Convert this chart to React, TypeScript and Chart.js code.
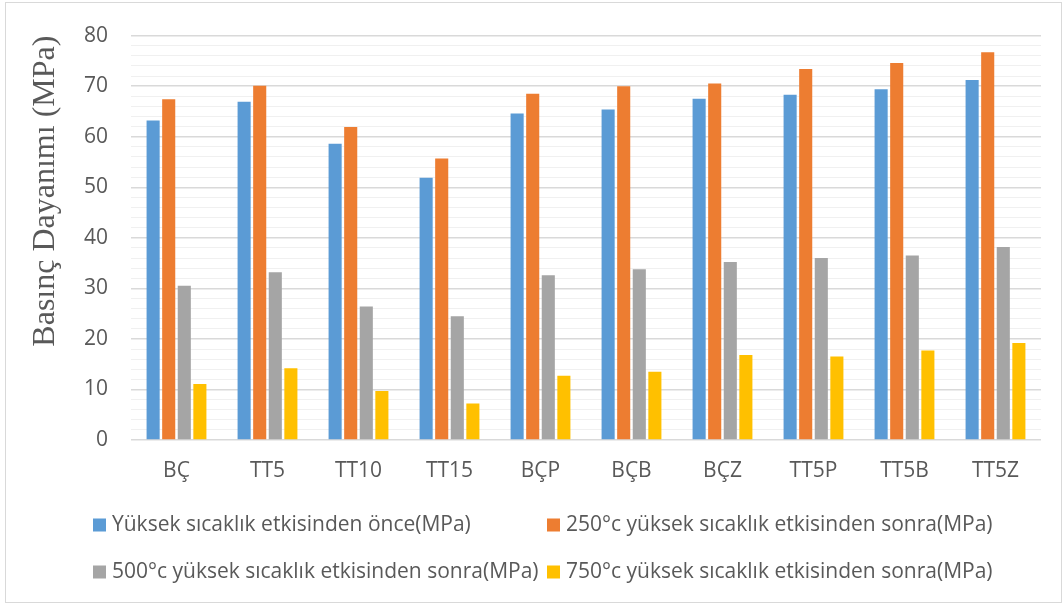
import React, { useEffect, useRef } from "react";
import { Chart, registerables } from "chart.js";

Chart.register(...registerables);

const categories = ["BÇ", "TT5", "TT10", "TT15", "BÇP", "BÇB", "BÇZ", "TT5P", "TT5B", "TT5Z"];

const seriesLabels = [
  "Yüksek sıcaklık etkisinden önce(MPa)",
  "250°c yüksek sıcaklık etkisinden sonra(MPa)",
  "500°c yüksek sıcaklık etkisinden sonra(MPa)",
  "750°c yüksek sıcaklık etkisinden sonra(MPa)",
];

const beforeHeat = [63.2, 66.9, 58.6, 51.9, 64.6, 65.4, 67.5, 68.3, 69.4, 71.2];
const after250 = [67.4, 70.1, 61.9, 55.7, 68.5, 70.0, 70.5, 73.4, 74.6, 76.7];
const after500 = [30.5, 33.2, 26.4, 24.5, 32.6, 33.8, 35.2, 36.0, 36.5, 38.2];
const after750 = [11.1, 14.2, 9.7, 7.2, 12.7, 13.5, 16.8, 16.5, 17.7, 19.2];

const seriesColors = ["#5B9BD5", "#ED7D31", "#A5A5A5", "#FFC000"];

const yAxisTitle = "Basınç Dayanımı (MPa)";

const TEXT = "#595959";
const SANS = "'Open Sans', 'Noto Sans', sans-serif";

export default function App() {
  const ref = useRef<HTMLCanvasElement | null>(null);

  useEffect(() => {
    if (!ref.current) return;

    const framePlugin = {
      id: "frame",
      beforeDraw(chart: any) {
        const ctx = chart.ctx;
        ctx.save();
        ctx.fillStyle = "#ffffff";
        ctx.fillRect(0, 0, chart.width, chart.height);
        ctx.strokeStyle = "#d9d9d9";
        ctx.lineWidth = 1;
        ctx.strokeRect(5.5, 2.5, 1056, 600);
        ctx.restore();
      },
    };

    const gridLegendPlugin = {
      id: "gridLegend",
      afterDraw(chart: any) {
        const ctx = chart.ctx;
        const cols = [93, 547];
        const rows = [525, 572];
        ctx.save();
        ctx.font = `21px ${SANS}`;
        ctx.textBaseline = "middle";
        ctx.textAlign = "left";
        chart.data.datasets.forEach((ds: any, i: number) => {
          const x = cols[i % 2];
          const y = rows[Math.floor(i / 2)];
          ctx.fillStyle = ds.backgroundColor;
          ctx.fillRect(x, y - 6.5, 13, 13);
          ctx.fillStyle = TEXT;
          ctx.fillText(ds.label, x + 19, y);
        });
        ctx.restore();
      },
    };

    const data = [beforeHeat, after250, after500, after750];

    const chart = new Chart(ref.current, {
      type: "bar",
      data: {
        labels: categories,
        datasets: data.map((values, i) => ({
          label: seriesLabels[i],
          data: values,
          backgroundColor: seriesColors[i],
          borderWidth: 0,
          categoryPercentage: 0.685,
          barPercentage: 0.84,
        })),
      },
      options: {
        responsive: false,
        animation: false,
        devicePixelRatio: 1,
        layout: { padding: { left: 0, right: 23, top: 31, bottom: 105 } },
        plugins: {
          legend: { display: false },
          tooltip: { enabled: false },
          title: { display: false },
        },
        scales: {
          x: {
            grid: { display: false, drawTicks: false },
            border: { display: false },
            ticks: {
              color: TEXT,
              font: { family: SANS, size: 21 },
              padding: 18,
              maxRotation: 0,
            },
            afterFit(scale: any) {
              scale.height = 60;
            },
          },
          y: {
            min: 0,
            max: 80,
            border: { display: false },
            grid: {
              drawTicks: false,
              color: (c: any) => (c.tick && c.tick.value % 10 === 0 ? "#d9d9d9" : "#f0f0f0"),
              lineWidth: (c: any) => (c.tick && c.tick.value % 10 === 0 ? 1.4 : 1),
            },
            ticks: {
              stepSize: 2,
              autoSkip: false,
              color: TEXT,
              font: { family: SANS, size: 21 },
              padding: 23,
              callback: (v: any) => (Number(v) % 10 === 0 ? String(v) : ""),
            },
            title: {
              display: true,
              text: yAxisTitle,
              align: "end",
              color: TEXT,
              font: { family: "'Liberation Serif', 'Times New Roman', serif", size: 32, weight: "normal" },
              padding: { top: 26, bottom: 0 },
            },
            afterFit(scale: any) {
              scale.width = 131;
            },
          },
        },
      },
      plugins: [framePlugin, gridLegendPlugin],
    } as any);

    return () => chart.destroy();
  }, []);

  return (
    <div style={{ position: "absolute", left: 0, top: 0, width: 1064, height: 605 }}>
      <canvas ref={ref} width={1064} height={605} style={{ display: "block" }} />
    </div>
  );
}
